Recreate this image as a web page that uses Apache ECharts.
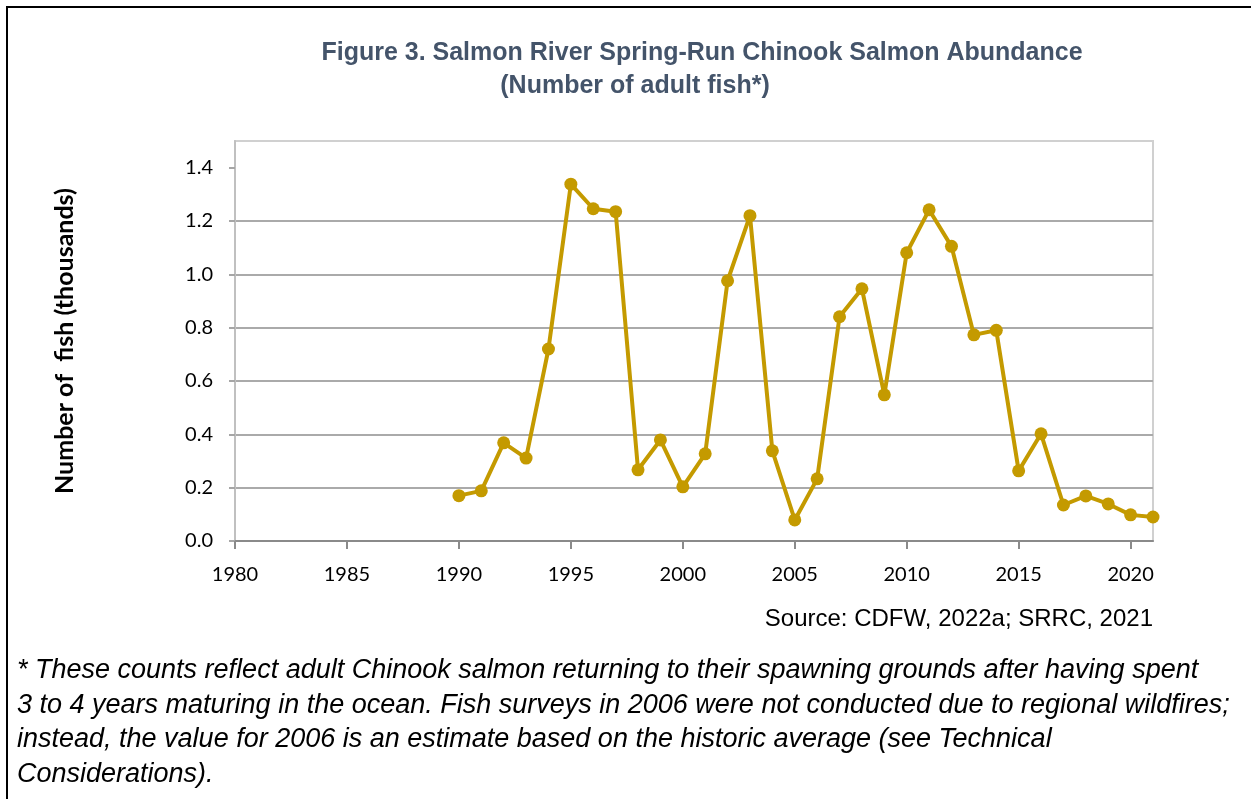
<!DOCTYPE html>
<html>
<head>
<meta charset="utf-8">
<script src="https://cdn.jsdelivr.net/npm/echarts@6/dist/echarts.min.js"></script>
<style>
html,body{margin:0;padding:0;background:#fff;}
#c{width:1251px;height:799px;}
</style>
</head>
<body>
<div id="c"></div>
<script>
const years = [1990,1991,1992,1993,1994,1995,1996,1997,1998,1999,2000,2001,2002,2003,2004,2005,2006,2007,2008,2009,2010,2011,2012,2013,2014,2015,2016,2017,2018,2019,2020,2021];
const abundance = [0.170,0.188,0.368,0.311,0.720,1.338,1.246,1.235,0.267,0.379,0.203,0.327,0.976,1.220,0.338,0.079,0.233,0.841,0.946,0.548,1.081,1.242,1.105,0.773,0.790,0.263,0.402,0.135,0.169,0.139,0.098,0.090];
const xTicks = [1980,1985,1990,1995,2000,2005,2010,2015,2020];
const yTicks = [0,0.2,0.4,0.6,0.8,1.0,1.2,1.4];
const titleLine1 = 'Figure 3. Salmon River Spring-Run Chinook Salmon Abundance';
const titleLine2 = '(Number of adult fish*)';
const yAxisName = 'Number of  fish (thousands)';
const sourceText = 'Source: CDFW, 2022a; SRRC, 2021';
const footnote = [
  '* These counts reflect adult Chinook salmon returning to their spawning grounds after having spent',
  '3 to 4 years maturing in the ocean. Fish surveys in 2006 were not conducted due to regional wildfires;',
  'instead, the value for 2006 is an estimate based on the historic average (see Technical',
  'Considerations).'
];

const chart = echarts.init(document.getElementById('c'), null, {renderer:'canvas'});
const titleStyle = {fontFamily:'Liberation Sans, Arial, sans-serif', fontWeight:'bold', fontSize:25, color:'#44546a'};
chart.setOption({
  animation:false,
  backgroundColor:'#fff',
  title:[
    {text:titleLine1, left:697, top:36, textAlign:'center', textStyle:titleStyle},
    {text:titleLine2, left:630, top:69, textAlign:'center', textStyle:titleStyle}
  ],
  grid:{left:235, right:98, top:141, bottom:258, show:true, borderColor:'#d0d0d0', borderWidth:2, backgroundColor:'transparent'},
  xAxis:{
    type:'value', min:1980, max:2021, interval:5,
    axisLine:{show:true, onZero:false, lineStyle:{color:'#8a8a8a', width:2}},
    axisTick:{show:true, length:8, customValues:xTicks, lineStyle:{color:'#8a8a8a', width:2}},
    axisLabel:{customValues:xTicks, margin:24, fontFamily:'Lato, sans-serif', fontSize:20, color:'#000', formatter:v=>String(v)},
    splitLine:{show:false}
  },
  yAxis:{
    type:'value', min:0, max:1.5, interval:0.2,
    name:yAxisName, nameLocation:'middle', nameGap:158,
    nameTextStyle:{fontFamily:'Lato, sans-serif', fontWeight:'bold', fontSize:25, color:'#000'},
    axisLine:{show:true, lineStyle:{color:'#c0c0c0', width:2}},
    axisTick:{show:true, length:6, customValues:yTicks, lineStyle:{color:'#a6a6a6', width:2}},
    axisLabel:{customValues:yTicks, margin:22, fontFamily:'Lato, sans-serif', fontSize:20, color:'#000', formatter:v=>v.toFixed(1)},
    splitLine:{show:true, showMinLine:false, showMaxLine:false, lineStyle:{color:'#aaaaaa', width:2}}
  },
  series:[{
    type:'line',
    data:years.map((y,i)=>[y,abundance[i]]),
    symbol:'circle', symbolSize:13,
    lineStyle:{color:'#c49a00', width:4},
    itemStyle:{color:'#c49a00'},
    z:5
  }],
  graphic:[
    {type:'polyline', shape:{points:[[7,799],[7,7],[1251,7]]}, style:{stroke:'#000', lineWidth:2, fill:null}},
    {type:'text', right:98, top:607, style:{text:sourceText, fontFamily:'Liberation Sans, Arial, sans-serif', fontSize:24, fill:'#000', textAlign:'right'}},
    {type:'text', left:17, top:653, style:{text:footnote.join('\n'), fontFamily:'Liberation Sans, Arial, sans-serif', fontStyle:'italic', fontSize:27, lineHeight:34.7, fill:'#000'}}
  ]
});
</script>
</body>
</html>
